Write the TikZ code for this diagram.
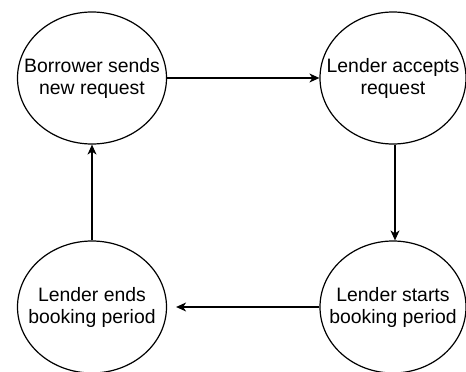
\documentclass[tikz,border=0pt]{standalone}
\usepackage{fontspec}
\setmainfont{Liberation Sans}
\usetikzlibrary{shapes.geometric,arrows.meta}
\begin{document}
\begin{tikzpicture}[x=1pt,y=-1pt,
  state/.style={ellipse,draw,line width=1.2pt,fill=white,inner sep=0pt,
    minimum width=149pt,minimum height=132pt,
    label={[align=center,font=\fontsize{19.4}{22}\selectfont]center:#1}},
  flow/.style={line width=1.2pt,-{Stealth[length=10pt,width=9pt,inset=3pt]}}]
  \useasboundingbox (0,0) rectangle (466,372);
  \node[state={Borrower sends\\new request}] (send) at (92,78) {};
  \node[state={Lender accepts\\request},minimum width=146pt] (accept) at (393,78) {};
  \node[state={Lender starts\\booking period},minimum width=146pt] (start) at (393,307) {};
  \node[state={Lender ends\\booking period}] (ends) at (92,307) {};
  \draw[flow] (send.east) -- (accept.west);
  \draw[flow] ([xshift=2pt]accept.south) -- ([xshift=2pt]start.north);
  \draw[flow,shorten >=9pt] (start.west) -- (ends.east);
  \draw[flow] (ends.north) -- (send.south);
\end{tikzpicture}
\end{document}
